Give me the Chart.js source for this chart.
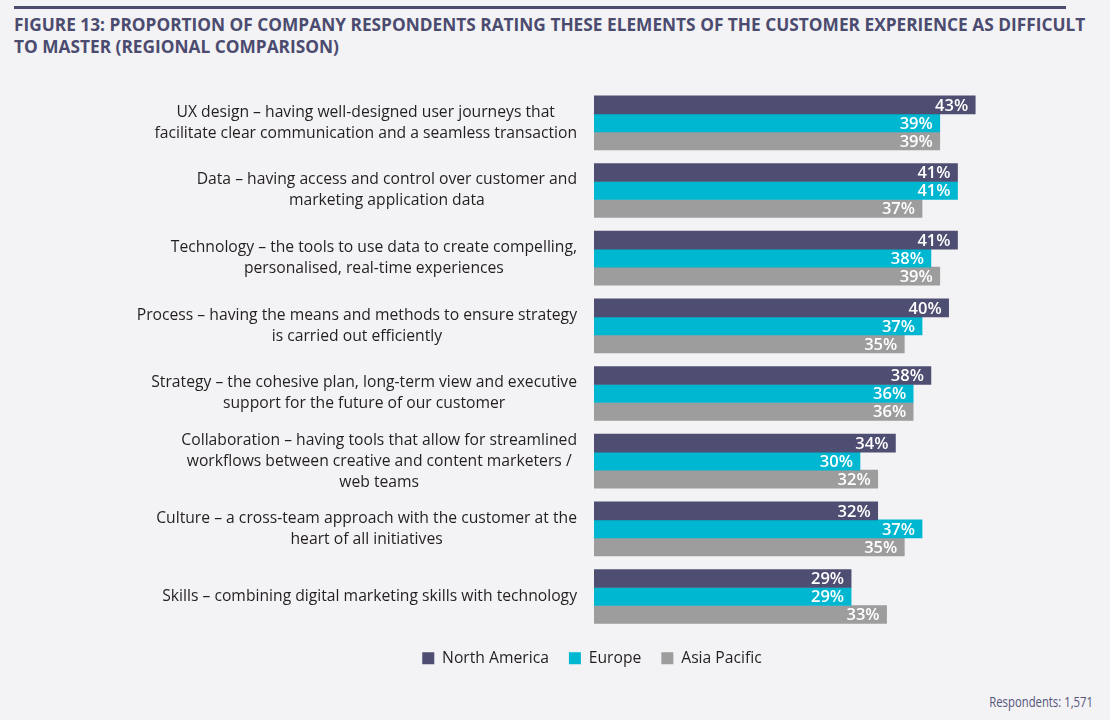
<!DOCTYPE html>
<html>
<head>
<meta charset="utf-8">
<script src="https://cdn.jsdelivr.net/npm/chart.js@4.4.1/dist/chart.umd.min.js"></script>
<style>
  html, body { margin: 0; padding: 0; }
  body { width: 1110px; height: 720px; background: #f3f2f4; position: relative; overflow: hidden; font-family: "Open Sans", sans-serif; }
  .rule { position: absolute; left: 14px; top: 6px; width: 1052px; height: 3px; background: #4b4b70; }
  .title { position: absolute; left: 14px; top: 14px; font-weight: 700; font-size: 17.3px; line-height: 22px; color: #4b4b70; white-space: nowrap; }
  .wrap { position: absolute; left: 74px; top: 80px; width: 1036px; height: 596px; }
  .note { position: absolute; right: 17px; top: 692px; font-family: "Open Sans", sans-serif; font-size: 14.5px; color: #55557a; transform: scaleX(0.78); transform-origin: right center; }
</style>
</head>
<body>
<div class="rule"></div>
<div class="title">FIGURE 13: PROPORTION OF COMPANY RESPONDENTS RATING THESE ELEMENTS OF THE CUSTOMER EXPERIENCE AS DIFFICULT<br>TO MASTER (REGIONAL COMPARISON)</div>
<div class="wrap"><canvas id="chart"></canvas></div>
<div class="note">Respondents: 1,571</div>
<script>
// categories, one line per entry
var categories = [
    ['UX design – having well-designed user journeys that', 'facilitate clear communication and a seamless transaction'],
    ['Data – having access and control over customer and', 'marketing application data'],
    ['Technology – the tools to use data to create compelling,', 'personalised, real-time experiences'],
    ['Process – having the means and methods to ensure strategy', 'is carried out efficiently'],
    ['Strategy – the cohesive plan, long-term view and executive', 'support for the future of our customer'],
    ['Collaboration – having tools that allow for streamlined', 'workflows between creative and content marketers /', 'web teams'],
    ['Culture – a cross-team approach with the customer at the', 'heart of all initiatives'],
    ['Skills – combining digital marketing skills with technology']
];
var seriesNames = ['North America', 'Europe', 'Asia Pacific'];
var northAmerica = [43, 41, 41, 40, 38, 34, 32, 29];
var europe = [39, 41, 38, 37, 36, 30, 37, 29];
var asiaPacific = [39, 37, 39, 35, 36, 32, 35, 33];
var colors = ['#4e4e72', '#00b7d2', '#9d9d9d'];

// draws the category texts: block right aligned, lines centred inside it
var categoryLabels = {
    id: 'categoryLabels',
    afterDraw: function (chart) {
        var ctx = chart.ctx;
        var yScale = chart.scales.y;
        var right = chart.chartArea.left - 17;
        ctx.save();
        ctx.font = '15.7px "Open Sans"';
        ctx.fillStyle = '#231f20';
        ctx.textAlign = 'center';
        ctx.textBaseline = 'middle';
        categories.forEach(function (lines, i) {
            var w = Math.max.apply(null, lines.map(function (l) { return ctx.measureText(l).width; }));
            var cx = right - w / 2;
            var cy = yScale.getPixelForValue(i);
            lines.forEach(function (l, j) {
                ctx.fillText(l, cx, cy + (j - (lines.length - 1) / 2) * 21);
            });
        });
        ctx.restore();
    }
};

// white percentages at the end of each bar
var valueLabels = {
    id: 'valueLabels',
    afterDatasetsDraw: function (chart) {
        var ctx = chart.ctx;
        ctx.save();
        ctx.font = '600 16.5px "Open Sans"';
        ctx.fillStyle = '#ffffff';
        ctx.textAlign = 'right';
        ctx.textBaseline = 'middle';
        chart.data.datasets.forEach(function (ds, di) {
            chart.getDatasetMeta(di).data.forEach(function (bar, i) {
                ctx.fillText(ds.data[i] + '%', bar.x - 7, bar.y + 1);
            });
        });
        ctx.restore();
    }
};

new Chart(document.getElementById('chart'), {
    type: 'bar',
    data: {
        labels: categories,
        datasets: [
            { label: seriesNames[0], data: northAmerica, backgroundColor: colors[0] },
            { label: seriesNames[1], data: europe, backgroundColor: colors[1] },
            { label: seriesNames[2], data: asiaPacific, backgroundColor: colors[2] }
        ]
    },
    options: {
        indexAxis: 'y',
        responsive: true,
        maintainAspectRatio: false,
        animation: false,
        barThickness: 18,
        layout: { padding: { left: 0, right: 0, top: 9, bottom: 0 } },
        scales: {
            x: { display: false, min: 0, max: 58.2 },
            y: {
                display: true,
                grid: { display: false },
                border: { display: false },
                ticks: { display: false },
                afterFit: function (scale) { scale.width = 520; } // room for the drawn labels
            }
        },
        plugins: {
            tooltip: { enabled: false },
            legend: {
                position: 'bottom',
                labels: {
                    boxWidth: 12,
                    boxHeight: 12,
                    padding: 20,
                    color: '#231f20',
                    font: { family: 'Open Sans', size: 15.7 }
                }
            }
        }
    },
    plugins: [categoryLabels, valueLabels]
});
</script>
</body>
</html>
